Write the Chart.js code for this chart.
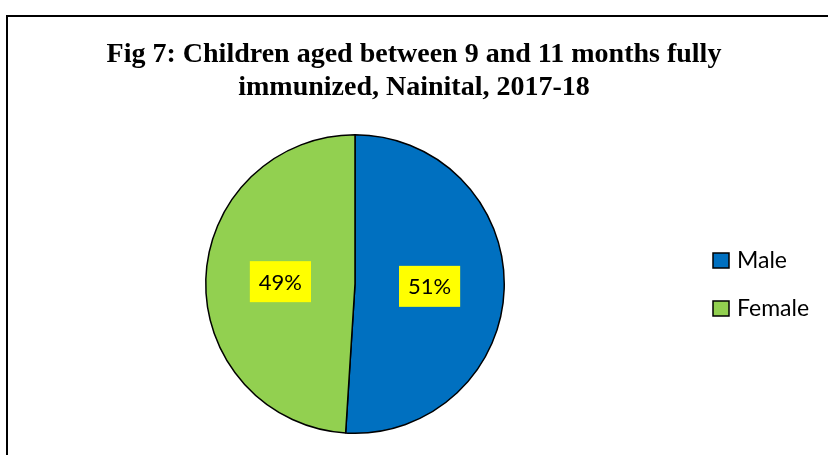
<!DOCTYPE html>
<html>
<head>
<meta charset="utf-8">
<script src="https://cdn.jsdelivr.net/npm/chart.js@4.4.0/dist/chart.umd.min.js"></script>
<style>
  html, body { margin: 0; padding: 0; background: #fff; overflow: hidden; }
  #marco { position: absolute; left: 6px; top: 15px; width: 900px; height: 600px; border: 2px solid #000; box-sizing: border-box; }
  #lienzo { position: absolute; left: 0; top: 0; }
</style>
</head>
<body>
<div id="marco"></div>
<canvas id="lienzo" width="828" height="455"></canvas>
<script>
// datos de la grafica
const categorias = ['Male', 'Female'];
const valores = [51, 49];
const colores = ['#0070C0', '#92D050'];
const titulo = ['Fig 7: Children aged between 9 and 11 months fully', 'immunized, Nainital, 2017-18'];

// titulo centrado en todo el lienzo
const encabezado = {
	id: 'encabezado',
	afterDraw(chart) {
		const ctx = chart.ctx;
		ctx.save();
		ctx.font = 'bold 28px "Liberation Serif"';
		ctx.textAlign = 'center';
		ctx.textBaseline = 'alphabetic';
		ctx.fillStyle = '#000';
		titulo.forEach((linea, i) => {
			ctx.fillText(linea, 414, 62 + i * 33);
		});
		ctx.restore();
	}
};

// etiquetas con fondo amarillo
const etiquetas = {
	id: 'etiquetas',
	afterDatasetsDraw(chart) {
		const ctx = chart.ctx;
		const meta = chart.getDatasetMeta(0);
		const total = valores.reduce((a, b) => a + b, 0);
		ctx.save();
		ctx.font = '22px Lato';
		ctx.textAlign = 'center';
		ctx.textBaseline = 'middle';
		meta.data.forEach((arco, i) => {
			const p = arco.tooltipPosition();
			const texto = Math.round(valores[i] / total * 100) + '%';
			const w = ctx.measureText(texto).width + 18;
			const h = 41;
			ctx.fillStyle = '#FFFF00';
			ctx.fillRect(p.x - w / 2, p.y - h / 2, w, h);
			ctx.fillStyle = '#000';
			ctx.fillText(texto, p.x, p.y + 1);
		});
		ctx.restore();
	}
};

// leyenda a la derecha
const leyenda = {
	id: 'leyenda',
	afterDraw(chart) {
		const ctx = chart.ctx;
		ctx.save();
		ctx.font = '23px Lato';
		ctx.textBaseline = 'middle';
		categorias.forEach((cat, i) => {
			const y = 253 + i * 48;
			ctx.fillStyle = colores[i];
			ctx.fillRect(713, y, 16, 15);
			ctx.strokeStyle = '#000';
			ctx.lineWidth = 1.5;
			ctx.strokeRect(713, y, 16, 15);
			ctx.fillStyle = '#000';
			ctx.fillText(cat, 737, y + 8);
		});
		ctx.restore();
	}
};

new Chart(document.getElementById('lienzo'), {
	type: 'pie',
	data: {
		labels: categorias,
		datasets: [{
			data: valores,
			backgroundColor: colores,
			borderColor: '#000',
			borderWidth: 1.5
		}]
	},
	options: {
		responsive: false,
		animation: false,
		layout: {
			padding: { left: 205, right: 323, top: 133, bottom: 20 }
		},
		plugins: {
			legend: { display: false },
			tooltip: { enabled: false },
			title: { display: false }
		}
	},
	plugins: [encabezado, etiquetas, leyenda]
});
</script>
</body>
</html>
